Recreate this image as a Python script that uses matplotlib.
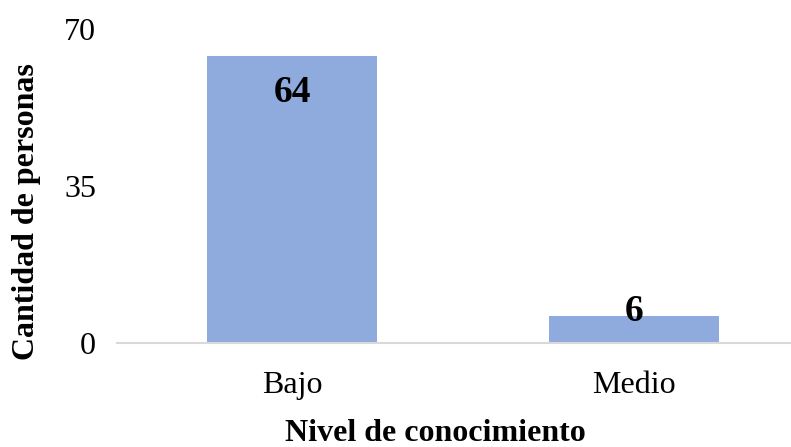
import numpy as np
import matplotlib.pyplot as plt

plt.rcParams['font.family'] = ['Liberation Serif', 'DejaVu Serif']

# Datos
categorias = ['Bajo', 'Medio']
personas = [64, 6]
y_ticks = [0, 35, 70]
# desplazamiento vertical de cada etiqueta (puntos)
desplazamientos = [-26, 3]

fig = plt.figure(figsize=(7.91, 4.47), dpi=100)
ax = fig.add_axes([117 / 791, 1 - 343 / 447, 674 / 791, 314 / 447])

x = np.arange(len(categorias))
barras = ax.bar(x, personas, width=0.497, color='#8FAADC', zorder=2)

for xi, v, dy in zip(x, personas, desplazamientos):
    ax.annotate(str(v), xy=(xi, v), xytext=(0, dy), textcoords='offset points',
                ha='center', va='center', fontsize=27, fontweight='bold')

ax.set_xlim(-0.512, 1.459)
ax.set_ylim(0, 70)
ax.set_yticks(y_ticks)
ax.set_xticks(x)
ax.set_xticklabels(categorias)
ax.tick_params(axis='both', length=0, labelsize=23)
ax.tick_params(axis='x', pad=20)
ax.tick_params(axis='y', pad=15)

for s in ['top', 'right', 'left']:
    ax.spines[s].set_visible(False)
ax.spines['bottom'].set_color('#D9D9D9')
ax.spines['bottom'].set_linewidth(1.5)

ax.set_ylabel('Cantidad de personas', fontsize=23, fontweight='bold',
              ha='center', va='center', rotation_mode='default')
ax.yaxis.set_label_coords(-0.135, 0.417)
ax.set_xlabel('Nivel de conocimiento', fontsize=23, fontweight='bold',
              ha='center', va='center')
ax.xaxis.set_label_coords(0.473, -0.287)

fig.savefig('out.png', dpi=100)
